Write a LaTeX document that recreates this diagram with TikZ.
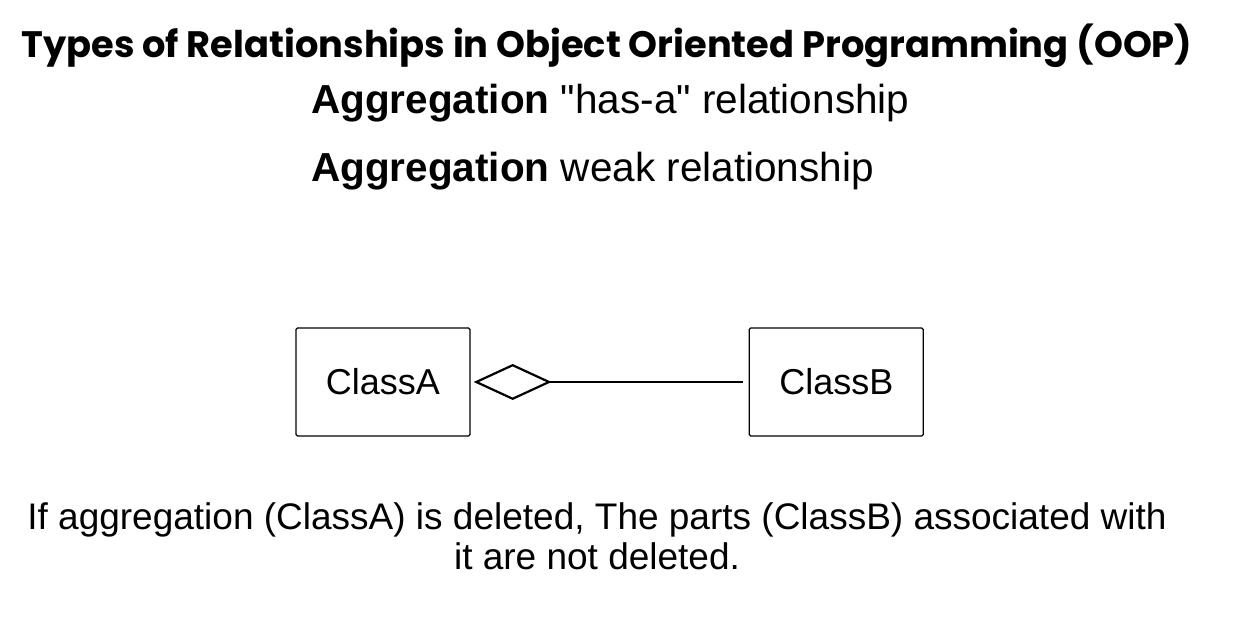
\documentclass[tikz,border=0pt]{standalone}
\usepackage{fontspec}
\setmainfont{Liberation Sans}[Ligatures=TeXOff]
\newfontfamily\titlefont{Poppins}
\usetikzlibrary{positioning,arrows.meta}

\begin{document}
\begin{tikzpicture}[x=1pt,y=1pt,node distance=278pt,
	titleb/.style={
	  font=\titlefont\fontsize{36.8}{40}\selectfont\bfseries,
	  inner sep=0pt
	},
	headb/.style={
	  font=\fontsize{40.5}{44}\selectfont,
	  anchor=west,
	  inner sep=0pt
	},
	classb/.style={
	  draw=black,
	  line width=1.3pt,
	  rounded corners=1.5pt,
	  minimum width=174pt,
	  minimum height=108pt,
	  font=\fontsize{36}{40}\selectfont
	},
	aggr/.style={
	  line width=2.2pt,
	  -{Diamond[open,length=78pt,width=36pt]},
	  shorten >=3pt,
	  shorten <=6pt
	},
	noteb/.style={
	  font=\fontsize{37}{40}\selectfont,
	  align=center,
	  inner sep=0pt
	}]

	\useasboundingbox (0,0) rectangle (1243,639);

	\node[titleb] (Title) at (607,593) {Types of Relationships in Object Oriented Programming (OOP)};
	\node[headb] (HasA) at (311,536) {\textbf{Aggregation} "has-a" relationship};
	\node[headb] (Weak) at (311,468) {\textbf{Aggregation} weak relationship};

	\node[classb] (ClassA) at (383,257) {ClassA};
	\node[classb,right=of ClassA] (ClassB) {ClassB};
	\draw[aggr] (ClassB.west) -- (ClassA.east);

	\node[noteb] (Note) at (597,103) {If aggregation (ClassA) is deleted, The parts (ClassB) associated with\\it are not deleted.};
\end{tikzpicture}
\end{document}
